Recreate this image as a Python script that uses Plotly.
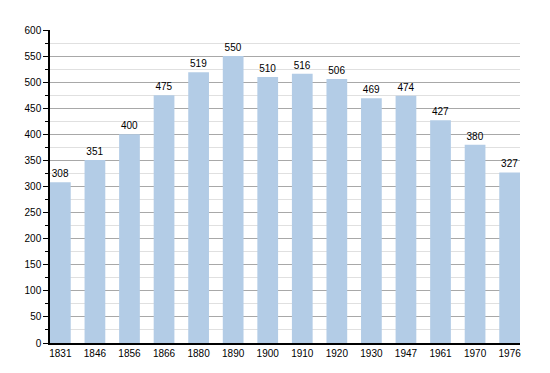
import plotly.graph_objects as go

years = ["1831", "1846", "1856", "1866", "1880", "1890", "1900", "1910", "1920", "1930", "1947", "1961", "1970", "1976"]
population = [308, 351, 400, 475, 519, 550, 510, 516, 506, 469, 474, 427, 380, 327]
y_ticks = [0, 50, 100, 150, 200, 250, 300, 350, 400, 450, 500, 550, 600]

xs = list(range(len(years)))

fig = go.Figure(go.Bar(
    x=xs, y=population, width=0.6,
    marker=dict(color="#b3cce6", line=dict(width=0)),
    text=[str(v) for v in population], textposition="outside",
    textfont=dict(family="Liberation Sans, Arial, sans-serif", size=10, color="#000"),
    cliponaxis=False,
))

fig.update_layout(
    width=542, height=365,
    margin=dict(l=42, r=30, t=22, b=30),
    paper_bgcolor="white", plot_bgcolor="white",
    showlegend=False,
    font=dict(family="Liberation Sans, Arial, sans-serif", size=10, color="#000"),
    bargap=0.4,
)
fig.update_xaxes(
    tickmode="array", tickvals=xs, ticktext=years,
    range=[-0.3, len(years) - 1 + 0.3],
    showline=True, linecolor="#000", linewidth=1.5,
    showgrid=False, ticks="", ticklen=0,
    tickfont=dict(size=10),
)
fig.update_yaxes(
    range=[0, 600], tickmode="array", tickvals=y_ticks,
    showline=True, linecolor="#000", linewidth=1.5,
    showgrid=True, gridcolor="#a8a8a8", gridwidth=1,
    ticks="outside", ticklen=5, tickcolor="#000",
    minor=dict(dtick=25, showgrid=True, gridcolor="#e0e0e0", ticks="outside", ticklen=3, tickcolor="#000"),
    zeroline=False,
    tickfont=dict(size=10),
)

fig.write_html("out.html")
